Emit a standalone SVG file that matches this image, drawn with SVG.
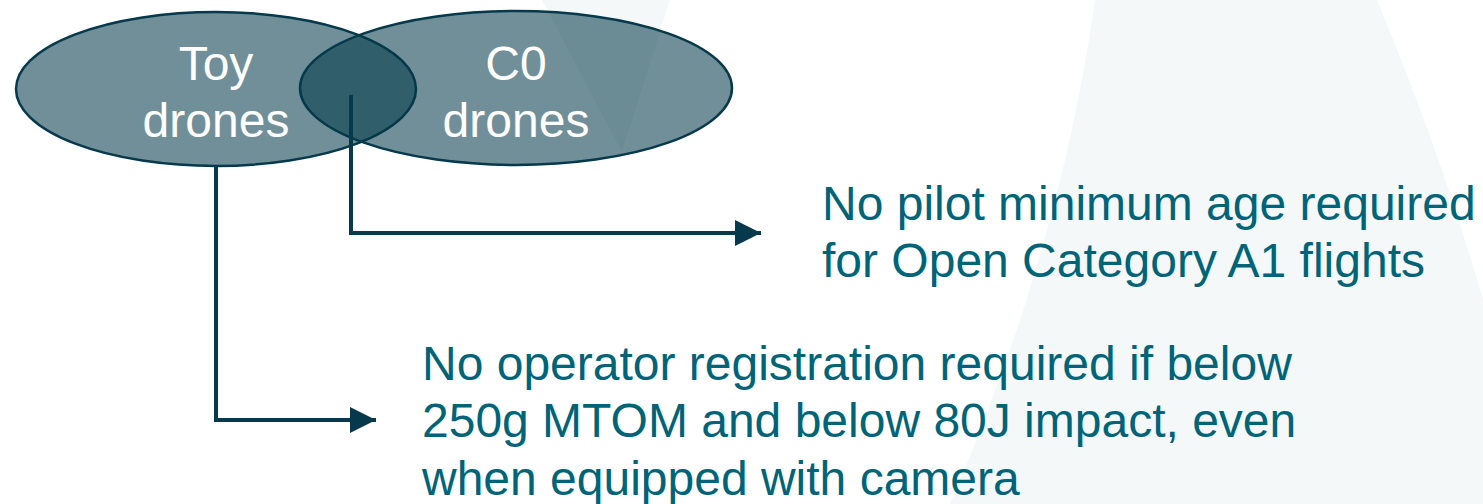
<svg xmlns="http://www.w3.org/2000/svg" width="1483" height="504" viewBox="0 0 1483 504">
<defs>
<style>
.bg{fill:#f4f8f9}
.ell{fill:#003747;fill-opacity:0.56;stroke:#06394b;stroke-width:2.5}
.lbl{font-family:"Liberation Sans",Arial,sans-serif;font-size:48px;fill:#ffffff;text-anchor:middle}
.txt{font-family:"Liberation Sans",Arial,sans-serif;font-size:48px;fill:#006478}
.con{fill:none;stroke:#06394b;stroke-width:4}
</style>
<marker id="arr" viewBox="0 0 26 26" refX="26" refY="13" markerWidth="26" markerHeight="26" markerUnits="userSpaceOnUse" orient="auto">
<path d="M0,0 L26,13 L0,26 Z" fill="#06394b"/>
</marker>
</defs>
<rect width="1483" height="504" fill="#ffffff"/>
<g id="background">
<path class="bg" d="M1095,0 L1377,0 Q1440,150 1483,300 L1483,504 L950,504 Q1060,250 1095,0 Z"/>
<path class="bg" d="M542,0 L670,0 L622,152 Z"/>
</g>
<g id="toy">
<ellipse class="ell" cx="216" cy="89" rx="200" ry="77"/>
<text class="lbl" x="216" y="80">Toy</text>
<text class="lbl" x="216" y="137">drones</text>
</g>
<g id="c0">
<ellipse class="ell" cx="516" cy="88" rx="216" ry="77"/>
<text class="lbl" x="516" y="80">C0</text>
<text class="lbl" x="516" y="137">drones</text>
</g>
<g id="connectors">
<path class="con" d="M351,95 L351,233 L761,233" marker-end="url(#arr)"/>
<path class="con" d="M216,166 L216,420 L376,420" marker-end="url(#arr)"/>
</g>
<g id="note-pilot">
<text class="txt" x="822" y="220">No pilot minimum age required</text>
<text class="txt" x="822" y="277">for Open Category A1 flights</text>
</g>
<g id="note-operator">
<text class="txt" x="422" y="380">No operator registration required if below</text>
<text class="txt" x="422" y="437">250g MTOM and below 80J impact, even</text>
<text class="txt" x="422" y="495">when equipped with camera</text>
</g>
</svg>
